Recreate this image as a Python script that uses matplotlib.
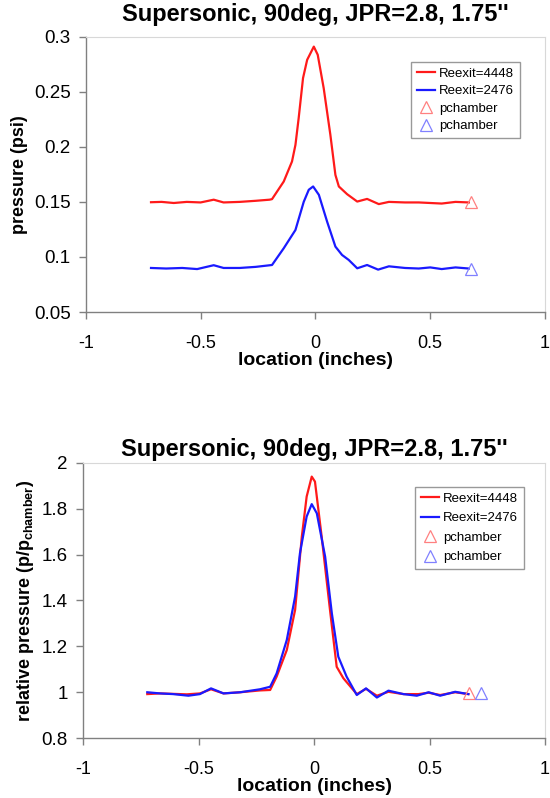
import matplotlib
matplotlib.use("Agg")
import matplotlib.pyplot as plt

plt.rcParams['font.family'] = ['Liberation Sans', 'DejaVu Sans']
plt.rcParams['mathtext.fontset'] = 'custom'
plt.rcParams['mathtext.rm'] = 'Liberation Sans'
plt.rcParams['mathtext.bf'] = 'Liberation Sans:bold'

title = "Supersonic, 90deg, JPR=2.8, 1.75''"

# Top panel: absolute pressure (psi)
top_red_x = [-0.716, -0.67, -0.617, -0.56, -0.5, -0.443, -0.40, -0.33, -0.26, -0.20, -0.189,
             -0.138, -0.102, -0.087, -0.073, -0.054, -0.036, -0.007, 0.010, 0.036, 0.065, 0.087,
             0.102, 0.138, 0.182, 0.225, 0.276, 0.320, 0.39, 0.45, 0.50, 0.55, 0.61, 0.668]
top_red_y = [0.1497, 0.150, 0.149, 0.150, 0.1495, 0.152, 0.1495, 0.150, 0.151, 0.152, 0.1525,
             0.1685, 0.1867, 0.2018, 0.226, 0.2624, 0.279, 0.291, 0.2836, 0.2533, 0.211, 0.1745,
             0.164, 0.157, 0.1503, 0.1527, 0.148, 0.150, 0.1495, 0.1495, 0.149, 0.1485, 0.150, 0.1495]
top_blue_x = [-0.716, -0.65, -0.58, -0.515, -0.443, -0.40, -0.33, -0.26, -0.189, -0.138, -0.087,
              -0.051, -0.029, -0.010, 0.015, 0.051, 0.087, 0.116, 0.145, 0.182, 0.225, 0.273,
              0.320, 0.39, 0.45, 0.50, 0.55, 0.61, 0.668]
top_blue_y = [0.090, 0.0895, 0.090, 0.089, 0.0925, 0.090, 0.090, 0.091, 0.0927, 0.1079, 0.1245,
              0.150, 0.161, 0.164, 0.1564, 0.132, 0.1094, 0.1018, 0.0973, 0.0897, 0.0927, 0.0885,
              0.0915, 0.090, 0.0895, 0.0905, 0.089, 0.0905, 0.0895]
top_pch_red = (0.678, 0.1495)
top_pch_blue = (0.678, 0.089)

# Bottom panel: relative pressure
bot_red_x = [-0.722, -0.667, -0.551, -0.494, -0.446, -0.392, -0.320, -0.234, -0.190, -0.162,
             -0.118, -0.082, -0.053, -0.032, -0.010, 0.004, 0.033, 0.069, 0.098, 0.127, 0.185,
             0.225, 0.272, 0.322, 0.387, 0.452, 0.496, 0.546, 0.611, 0.668]
bot_red_y = [0.992, 0.995, 0.991, 0.995, 1.013, 0.995, 1.0, 1.008, 1.010, 1.068,
             1.184, 1.359, 1.678, 1.853, 1.940, 1.918, 1.678, 1.359, 1.111, 1.061, 0.992,
             1.015, 0.985, 1.002, 0.992, 0.992, 0.998, 0.988, 1.0, 0.992]
bot_blue_x = [-0.722, -0.667, -0.61, -0.544, -0.494, -0.446, -0.392, -0.320, -0.234, -0.190,
              -0.162, -0.118, -0.082, -0.061, -0.032, -0.010, 0.012, 0.048, 0.077, 0.105, 0.141,
              0.185, 0.225, 0.272, 0.322, 0.387, 0.445, 0.496, 0.546, 0.611, 0.668]
bot_blue_y = [1.0, 0.995, 0.992, 0.985, 0.992, 1.017, 0.995, 1.0, 1.013, 1.024,
              1.082, 1.228, 1.417, 1.606, 1.766, 1.820, 1.780, 1.591, 1.344, 1.155, 1.068,
              0.988, 1.017, 0.977, 1.007, 0.992, 0.985, 1.0, 0.985, 1.002, 0.992]
bot_pch_red = (0.672, 0.995)
bot_pch_blue = (0.722, 0.995)

labels = ['Reexit=4448', 'Reexit=2476', 'pchamber', 'pchamber']
xticks = [-1, -0.5, 0, 0.5, 1]
xticklabels = ['-1', '-0.5', '0', '0.5', '1']
top_yticks = [0.05, 0.1, 0.15, 0.2, 0.25, 0.3]
top_yticklabels = ['0.05', '0.1', '0.15', '0.2', '0.25', '0.3']
bot_yticks = [0.8, 1.0, 1.2, 1.4, 1.6, 1.8, 2.0]
bot_yticklabels = ['0.8', '1', '1.2', '1.4', '1.6', '1.8', '2']

RED = '#ff1a1a'
BLUE = '#1a1aff'
LRED = '#ff8080'
LBLUE = '#8080ff'

fig = plt.figure(figsize=(5.5, 7.98), dpi=100)
ax1 = fig.add_axes([0.156, 0.609, 0.835, 0.345])
ax2 = fig.add_axes([0.151, 0.075, 0.840, 0.345])


def style(ax, yticks, yticklabels, ylim, title_pad):
    ax.set_xlim(-1, 1)
    ax.set_ylim(*ylim)
    ax.set_xticks(xticks)
    ax.set_xticklabels(xticklabels, fontsize=13)
    ax.set_yticks(yticks)
    ax.set_yticklabels(yticklabels, fontsize=13.5)
    for s in ['left', 'bottom']:
        ax.spines[s].set_color('#808080')
        ax.spines[s].set_linewidth(1.0)
    for s in ['top', 'right']:
        ax.spines[s].set_color('#d8d8d8')
        ax.spines[s].set_linewidth(0.8)
    ax.tick_params(direction='out', length=5, color='#808080', width=1.0)
    ax.tick_params(axis='x', pad=11.5)
    ax.tick_params(axis='y', pad=6)
    ax.set_xlabel('location (inches)', fontsize=14, fontweight='bold', labelpad=0)
    ax.set_title(title, fontsize=17, fontweight='bold', pad=title_pad)


def draw(ax, rx, ry, bx, by, pr, pb, loc_anchor, spacing):
    l1, = ax.plot(rx, ry, color=RED, lw=1.6)
    l2, = ax.plot(bx, by, color=BLUE, lw=1.6)
    m1, = ax.plot([pr[0]], [pr[1]], linestyle='none', marker='^', mfc='none', mec=LRED, ms=8, mew=0.9)
    m2, = ax.plot([pb[0]], [pb[1]], linestyle='none', marker='^', mfc='none', mec=LBLUE, ms=8, mew=0.9)
    leg = ax.legend([l1, l2, m1, m2], labels, loc='upper right', bbox_to_anchor=loc_anchor,
                    fontsize=9.5, frameon=True, fancybox=False, handlelength=1.4,
                    handletextpad=0.3, borderpad=0.45, labelspacing=spacing, borderaxespad=0)
    leg.get_frame().set_edgecolor('#808080')
    leg.get_frame().set_linewidth(1.0)


draw(ax1, top_red_x, top_red_y, top_blue_x, top_blue_y, top_pch_red, top_pch_blue, (0.946, 0.909), 0.4)
style(ax1, top_yticks, top_yticklabels, (0.05, 0.3), 11)
ax1.set_ylabel('pressure (psi)', fontsize=13, fontweight='bold', labelpad=4)

draw(ax2, bot_red_x, bot_red_y, bot_blue_x, bot_blue_y, bot_pch_red, bot_pch_blue, (0.955, 0.913), 0.55)
style(ax2, bot_yticks, bot_yticklabels, (0.8, 2.0), 5)
ax2.set_ylabel(r'relative pressure (p/p$_{\mathbf{chamber}}$)', fontsize=13, fontweight='bold', labelpad=4)

fig.savefig('out.png', dpi=100)
